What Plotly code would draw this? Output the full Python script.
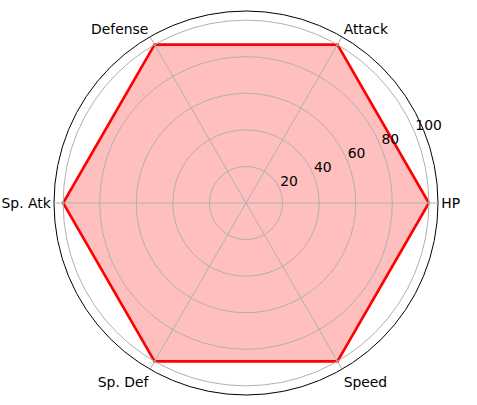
import plotly.graph_objects as go

categories = ["HP", "Attack", "Defense", "Sp. Atk", "Sp. Def", "Speed"]
values = [100, 100, 100, 100, 100, 100]
radial_ticks = [20, 40, 60, 80, 100]

r = values + values[:1]
theta = categories + categories[:1]

W, H = 477, 405
cx, cy = 246, 203          # centre of the polar area (pixels from top-left)
RMAX = 105                 # radial range maximum
PX_PER_UNIT = 192 / RMAX   # outer circle radius 192 px
R = RMAX * PX_PER_UNIT

# overlay polar used only to place the radial tick labels like matplotlib
RMAX2 = 101
R2 = RMAX2 * PX_PER_UNIT
cx2, cy2 = cx - 2.5, cy - 16.5

dom_main = dict(x=[(cx - R) / W, (cx + R) / W],
                y=[(H - cy - R) / H, (H - cy + R) / H])

fig = go.Figure()
fig.add_trace(go.Scatterpolar(
    r=r, theta=theta, mode="lines", fill="toself",
    fillcolor="rgba(255,0,0,0.25)",
    line=dict(color="red", width=2.6),
    showlegend=False, hoverinfo="skip",
))
fig.add_trace(go.Scatterpolar(
    r=r, theta=theta, mode="lines", opacity=0, subplot="polar2",
    showlegend=False, hoverinfo="skip",
))
fig.add_trace(go.Scatterpolar(
    r=r, theta=theta, mode="lines", opacity=0, subplot="polar3",
    showlegend=False, hoverinfo="skip",
))

fig.update_layout(
    width=W, height=H,
    margin=dict(l=0, r=0, t=0, b=0),
    paper_bgcolor="white",
    font=dict(family="DejaVu Sans", size=13.9, color="black"),
    polar=dict(
        domain=dom_main,
        bgcolor="white",
        radialaxis=dict(range=[0, RMAX], tickvals=radial_ticks,
                        showticklabels=False, showline=False, ticks="",
                        showgrid=False),
        angularaxis=dict(rotation=0, direction="counterclockwise",
                         categoryorder="array", categoryarray=categories,
                         showgrid=False,
                         linecolor="black", linewidth=1, showline=True,
                         ticks="", tickfont=dict(size=13.9, color="black")),
    ),
    polar2=dict(
        domain=dict(x=[(cx2 - R2) / W, (cx2 + R2) / W],
                    y=[(H - cy2 - R2) / H, (H - cy2 + R2) / H]),
        bgcolor="rgba(0,0,0,0)",
        radialaxis=dict(range=[0, RMAX2], tickvals=radial_ticks,
                        ticktext=[str(v) for v in radial_ticks],
                        angle=22.5, tickangle=22.5, side="clockwise",
                        showline=False, ticks="", showgrid=False,
                        tickfont=dict(size=13.9, color="black")),
        angularaxis=dict(rotation=0, direction="counterclockwise",
                         categoryorder="array", categoryarray=categories,
                         showgrid=False, showline=False,
                         showticklabels=False, ticks=""),
    ),
    polar3=dict(
        domain=dom_main,
        bgcolor="rgba(0,0,0,0)",
        radialaxis=dict(range=[0, RMAX], tickvals=radial_ticks,
                        showticklabels=False, showline=False, ticks="",
                        gridcolor="#b0b0b0", gridwidth=0.8),
        angularaxis=dict(rotation=0, direction="counterclockwise",
                         categoryorder="array", categoryarray=categories,
                         gridcolor="#b0b0b0", gridwidth=0.8,
                         showline=False, showticklabels=False, ticks=""),
    ),
)
fig.write_html("out.html", config={"displayModeBar": False},
               post_script="document.body.style.margin='0';")
